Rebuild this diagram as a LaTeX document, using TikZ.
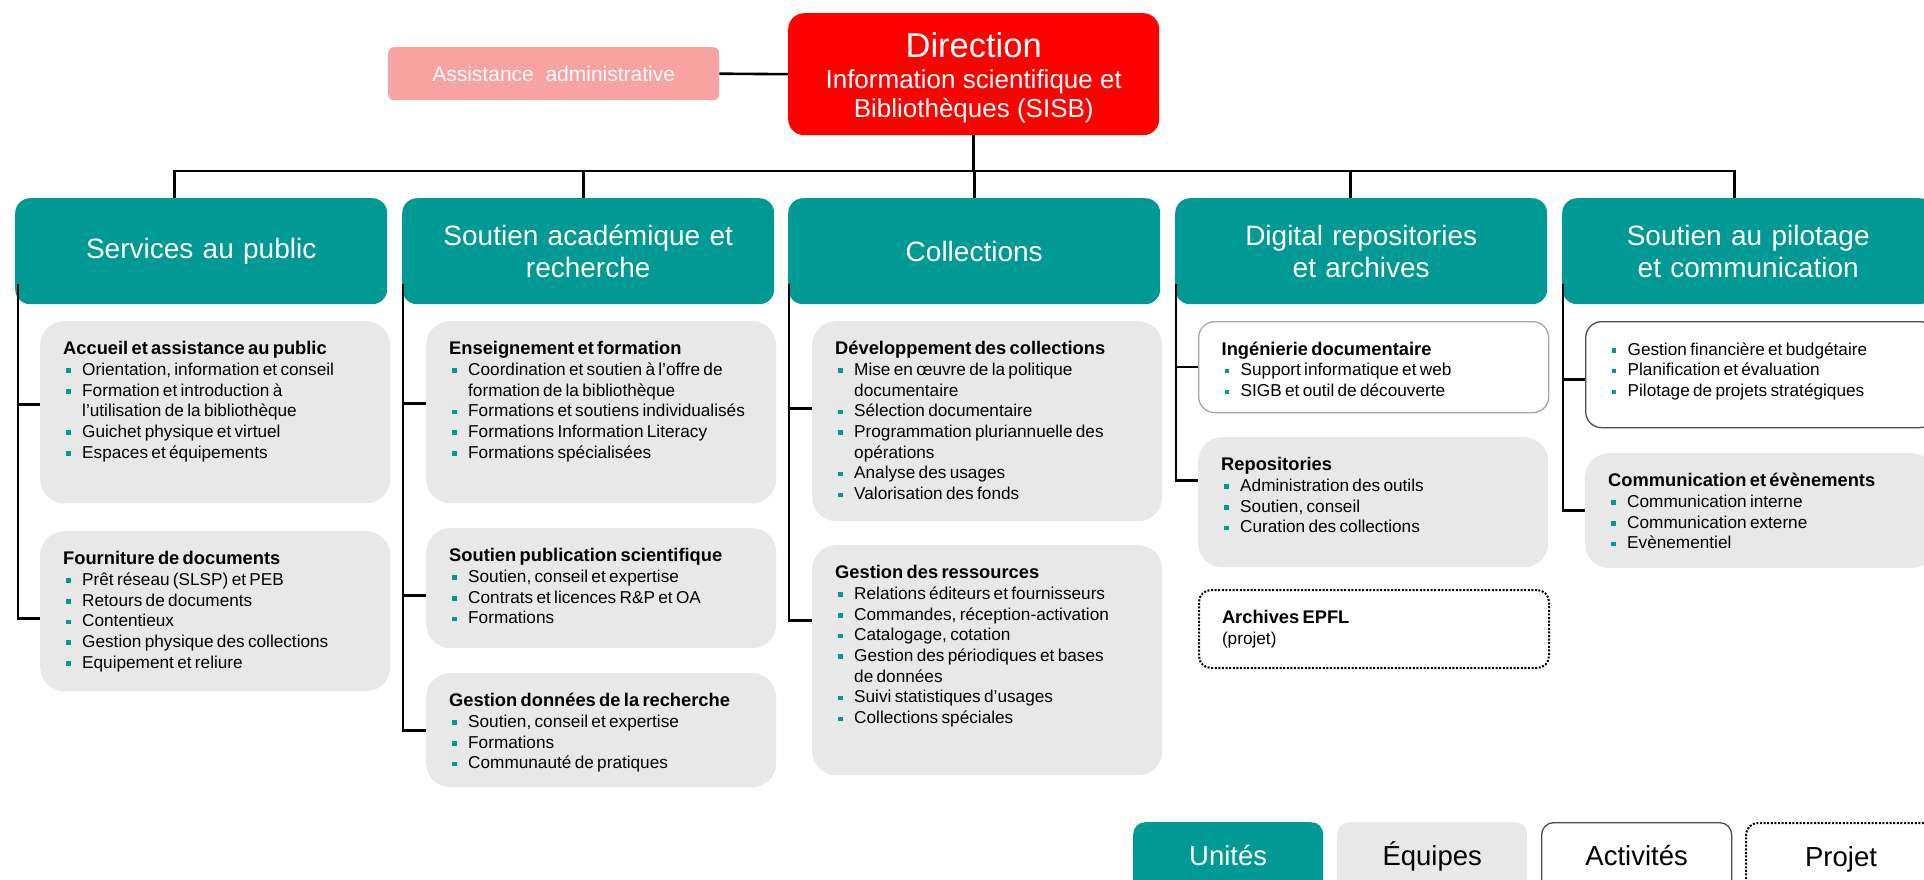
\documentclass[tikz,border=0pt]{standalone}
\usepackage{fontspec}
\setmainfont{Liberation Sans}
\definecolor{unitteal}{RGB}{0,153,148}
\definecolor{teamgray}{RGB}{232,232,232}
\definecolor{dirred}{RGB}{255,0,0}
\definecolor{assistpink}{RGB}{248,162,162}
\newcommand{\hd}[1]{\noindent{\bfseries\fontsize{18.3}{20.7}\selectfont\strut#1}\par}
\newcommand{\itm}[1]{\noindent\hangindent=19pt\hangafter=1\strut\makebox[19pt][l]{\hspace{3pt}\textcolor{unitteal}{\rule[2.5pt]{4.5pt}{4.5pt}}}#1\par}
\newcommand{\boxtext}[2]{\begin{minipage}[t][#1][t]{\hsize}\raggedright\fontsize{17.2}{20.7}\selectfont#2\end{minipage}}
\begin{document}
\begin{tikzpicture}[x=1pt,y=-1pt,
    tree/.style={line width=2.6pt},
    unit/.style={fill=\UNITCOLOR, text=white, rounded corners=15pt, anchor=north west, minimum width=372pt, minimum height=106pt, inner sep=0pt, text width=350pt, align=center, font=\fontsize{28}{32}\selectfont},
    team/.style={fill=\TEAMCOLOR, rounded corners=24pt, anchor=north west, inner xsep=23pt, inner ysep=19pt, text width=304pt},
    activity/.style={team, fill=white, draw=\ACTIVITYCOLOR, line width=1.3pt, rounded corners=16pt},
    project/.style={team, fill=white, draw=black, line width=2pt, dash pattern=on 2pt off 1.6pt, rounded corners=12pt},
    legend/.style={anchor=north west, minimum width=190pt, minimum height=72pt, rounded corners=12pt, inner sep=0pt, text height=20pt, text depth=6pt, font=\fontsize{27.5}{30}\selectfont}]

\def\UNITCOLOR{unitteal}
\def\TEAMCOLOR{teamgray}
\def\ACTIVITYCOLOR{black!70}
    \useasboundingbox (0,0) rectangle (1924,880);

    \node[fill=dirred, text=white, rounded corners=16pt, anchor=north west, minimum width=371pt, minimum height=122pt, inner sep=0pt, align=center, font=\fontsize{26}{29}\selectfont] (dir) at (788,13)
        {{\fontsize{34.5}{36}\selectfont\rule{0pt}{32.5pt}Direction}\\[1.6pt]Information scientifique et\\Bibliothèques (SISB)};
    \node[fill=assistpink, text=white, rounded corners=6pt, anchor=north west, minimum width=331pt, minimum height=53pt, inner sep=0pt, font=\fontsize{21}{24}\selectfont] (asst) at (388,47) {Assistance\ \ administrative};

    \node[unit] (svc) at (15,198) {Services au public};
    \node[unit] (sar) at (402,198) {Soutien académique et\\recherche};
    \node[unit] (col) at (788,198) {Collections};
    \node[unit] (dig) at (1175,198) {Digital repositories\\et archives};
    \node[unit] (pil) at (1562,198) {Soutien au pilotage\\et communication};

    \node[team] (acc) at (40,321) {\boxtext{144pt}{\hd{Accueil et assistance au public}\itm{Orientation, information et conseil}\itm{Formation et introduction à\newline l'utilisation de la bibliothèque}\itm{Guichet physique et virtuel}\itm{Espaces et équipements}}};
    \node[team] (fou) at (40,531) {\boxtext{122pt}{\hd{Fourniture de documents}\itm{Prêt réseau (SLSP) et PEB}\itm{Retours de documents}\itm{Contentieux}\itm{Gestion physique des collections}\itm{Equipement et reliure}}};

    \node[team] (ens) at (426,321) {\boxtext{144pt}{\hd{Enseignement et formation}\itm{Coordination et soutien à l'offre de\newline formation de la bibliothèque}\itm{Formations et soutiens individualisés}\itm{Formations Information Literacy}\itm{Formations spécialisées}}};
    \node[team] (pub) at (426,528) {\boxtext{82pt}{\hd{Soutien publication scientifique}\itm{Soutien, conseil et expertise}\itm{Contrats et licences R\&P et OA}\itm{Formations}}};
    \node[team] (don) at (426,673) {\boxtext{76pt}{\hd{Gestion données de la recherche}\itm{Soutien, conseil et expertise}\itm{Formations}\itm{Communauté de pratiques}}};

    \node[team] (dev) at (812,321) {\boxtext{162pt}{\hd{Développement des collections}\itm{Mise en œuvre de la politique\newline documentaire}\itm{Sélection documentaire}\itm{Programmation pluriannuelle des\newline opérations}\itm{Analyse des usages}\itm{Valorisation des fonds}}};
    \node[team] (res) at (812,545) {\boxtext{192pt}{\hd{Gestion des ressources}\itm{Relations éditeurs et fournisseurs}\itm{Commandes, réception-activation}\itm{Catalogage, cotation}\itm{Gestion des périodiques et bases\newline de données}\itm{Suivi statistiques d’usages}\itm{Collections spéciales}}};

    \node[activity, draw=black!35] (ing) at (1198,321) {\boxtext{53pt}{\hd{Ingénierie documentaire}\itm{Support informatique et web}\itm{SIGB et outil de découverte}}};
    \node[team] (rep) at (1198,437) {\boxtext{92pt}{\hd{Repositories}\itm{Administration des outils}\itm{Soutien, conseil}\itm{Curation des collections}}};
    \node[project] (arc) at (1198,589) {\boxtext{40pt}{\hd{Archives EPFL}\noindent\strut(projet)\par}};

    \node[activity] (fin) at (1585,321) {\boxtext{68pt}{\itm{Gestion financière et budgétaire}\itm{Planification et évaluation}\itm{Pilotage de projets stratégiques}}};
    \node[team] (com) at (1585,453) {\boxtext{77pt}{\hd{Communication et évènements}\itm{Communication interne}\itm{Communication externe}\itm{Evènementiel}}};

    \node[legend, fill=\UNITCOLOR, text=white] (lunit) at (1133,822) {Unités};
    \node[legend, fill=\TEAMCOLOR] (lteam) at (1337,822) {Équipes};
    \node[legend, draw=\ACTIVITYCOLOR, line width=1.3pt] (lact) at (1541,822) {Activités};
    \node[legend, draw=black, line width=2pt, dash pattern=on 2pt off 1.6pt] (lproj) at (1745,822) {Projet};

    \coordinate (bar) at (0,171);
    \coordinate (svcdrop) at ([xshift=-27pt]svc.north);
    \coordinate (sardrop) at ([xshift=-5pt]sar.north);
    \coordinate (digdrop) at ([xshift=-11pt]dig.north);
    \coordinate (pildrop) at ([xshift=-14pt]pil.north);
    \draw[tree] (asst.east) -- (dir.west);
    \draw[tree] (dir.south) -- (bar -| dir.south);
    \draw[tree] (svcdrop) |- (bar -| pildrop) -- (pildrop);
    \draw[tree] (sardrop) -- (bar -| sardrop);
    \draw[tree] (col.north) -- (bar -| col.north);
    \draw[tree] (digdrop) -- (bar -| digdrop);

    \coordinate (svcstem) at ([xshift=3pt,yshift=20pt]svc.south west);
    \coordinate (sarstem) at ([xshift=1pt,yshift=20pt]sar.south west);
    \coordinate (colstem) at ([xshift=1pt,yshift=20pt]col.south west);
    \coordinate (digstem) at ([xshift=1pt,yshift=20pt]dig.south west);
    \coordinate (pilstem) at ([xshift=1pt,yshift=20pt]pil.south west);
    \draw[tree] (svcstem) |- ([yshift=8pt]acc.west);
    \draw[tree] (svcstem) |- ([yshift=-7pt]fou.west);
    \draw[tree] (sarstem) |- ([yshift=9pt]ens.west);
    \draw[tree] (sarstem) |- ([yshift=-7pt]pub.west);
    \draw[tree] (sarstem) |- (don.west);
    \draw[tree] (colstem) |- ([yshift=13pt]dev.west);
    \draw[tree] (colstem) |- ([yshift=40pt]res.west);
    \draw[tree] (digstem) |- (ing.west);
    \draw[tree] (digstem) |- ([yshift=22pt]rep.west);
    \draw[tree] (pilstem) |- ([yshift=-5pt]fin.west);
    \draw[tree] (pilstem) |- (com.west);

\end{tikzpicture}
\end{document}
